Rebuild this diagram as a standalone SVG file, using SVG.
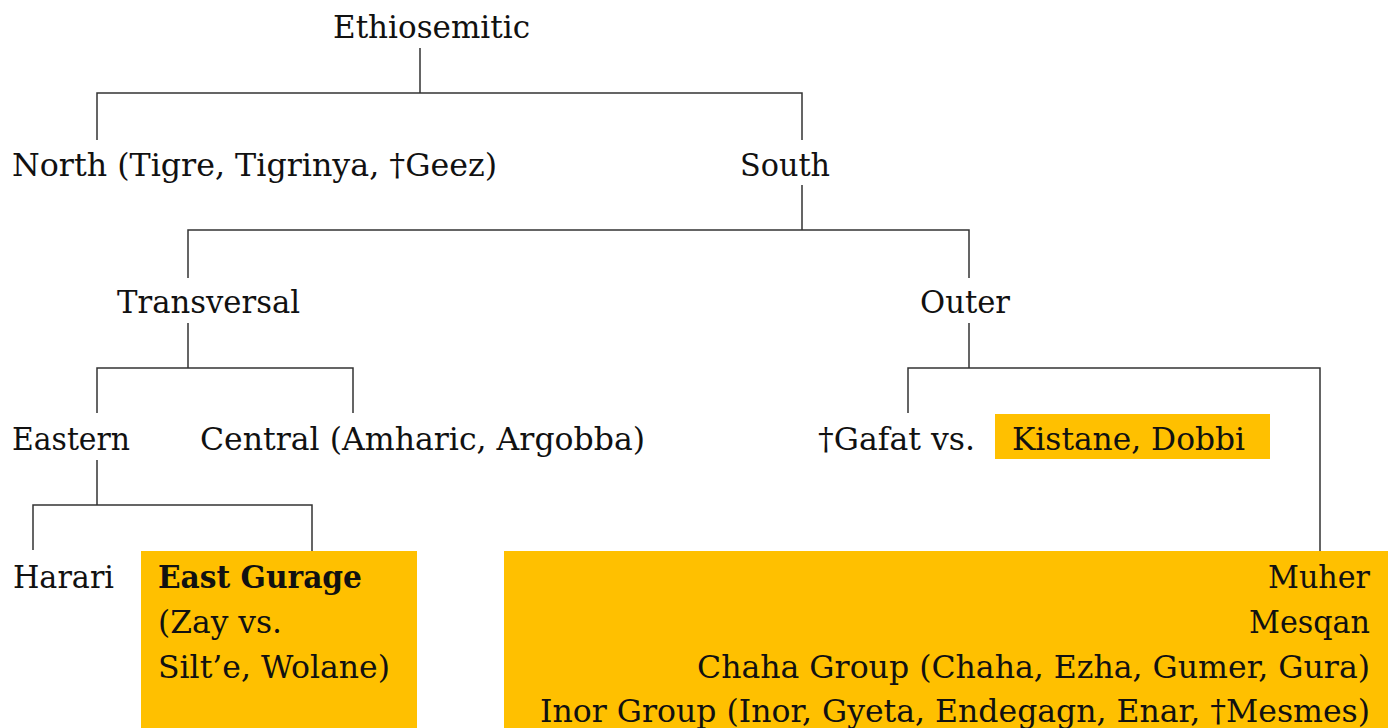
<svg xmlns="http://www.w3.org/2000/svg" width="1391" height="728" viewBox="0 0 1391 728">
<style>
text{font-family:"DejaVu Serif","Liberation Serif",serif;font-size:32px;fill:#111}
.b{font-weight:bold}
.r{text-anchor:end}
.box{fill:#FFC000}
#connectors path{fill:none;stroke:#333;stroke-width:1.5}
</style>
<rect width="1391" height="728" fill="#fff"/>
<g id="connectors">
<path d="M420 48V93M97 140V93H802V140"/>
<path d="M802 185V230M188 278V230H969V278"/>
<path d="M188 323V368M97 413V368H353V413"/>
<path d="M969 323V368M908 413V368H1320V551"/>
<path d="M97 460V505M33 550V505H312V551"/>
</g>
<g id="ethiosemitic"><text x="333" y="38" textLength="197" lengthAdjust="spacingAndGlyphs">Ethiosemitic</text></g>
<g id="north"><text x="12" y="176" textLength="485" lengthAdjust="spacingAndGlyphs">North (Tigre, Tigrinya, †Geez)</text></g>
<g id="south"><text x="740" y="176" textLength="90" lengthAdjust="spacingAndGlyphs">South</text></g>
<g id="transversal"><text x="117" y="313" textLength="183" lengthAdjust="spacingAndGlyphs">Transversal</text></g>
<g id="outer"><text x="920" y="313" textLength="90" lengthAdjust="spacingAndGlyphs">Outer</text></g>
<g id="eastern"><text x="12" y="450" textLength="118" lengthAdjust="spacingAndGlyphs">Eastern</text></g>
<g id="central"><text x="200" y="450" textLength="445" lengthAdjust="spacingAndGlyphs">Central (Amharic, Argobba)</text></g>
<g id="gafat-kistane">
<text x="818" y="450" textLength="157" lengthAdjust="spacingAndGlyphs">†Gafat vs.</text>
<rect class="box" x="995" y="414" width="275" height="45"/>
<text x="1012" y="450" textLength="233" lengthAdjust="spacingAndGlyphs">Kistane, Dobbi</text>
</g>
<g id="harari"><text x="13" y="588" textLength="101" lengthAdjust="spacingAndGlyphs">Harari</text></g>
<g id="east-gurage">
<rect class="box" x="141" y="551" width="276" height="177"/>
<text class="b" x="158" y="588" textLength="204" lengthAdjust="spacingAndGlyphs">East Gurage</text>
<text x="158" y="633" textLength="124" lengthAdjust="spacingAndGlyphs">(Zay vs.</text>
<text x="158" y="678" textLength="232" lengthAdjust="spacingAndGlyphs">Silt’e, Wolane)</text>
</g>
<g id="west-gurage">
<rect class="box" x="504" y="551" width="884" height="177"/>
<text class="r" x="1370" y="588" textLength="102" lengthAdjust="spacingAndGlyphs">Muher</text>
<text class="r" x="1370" y="633" textLength="121" lengthAdjust="spacingAndGlyphs">Mesqan</text>
<text class="r" x="1370" y="678" textLength="673" lengthAdjust="spacingAndGlyphs">Chaha Group (Chaha, Ezha, Gumer, Gura)</text>
<text class="r" x="1370" y="722" textLength="830" lengthAdjust="spacingAndGlyphs">Inor Group (Inor, Gyeta, Endegagn, Enar, †Mesmes)</text>
</g>
</svg>
